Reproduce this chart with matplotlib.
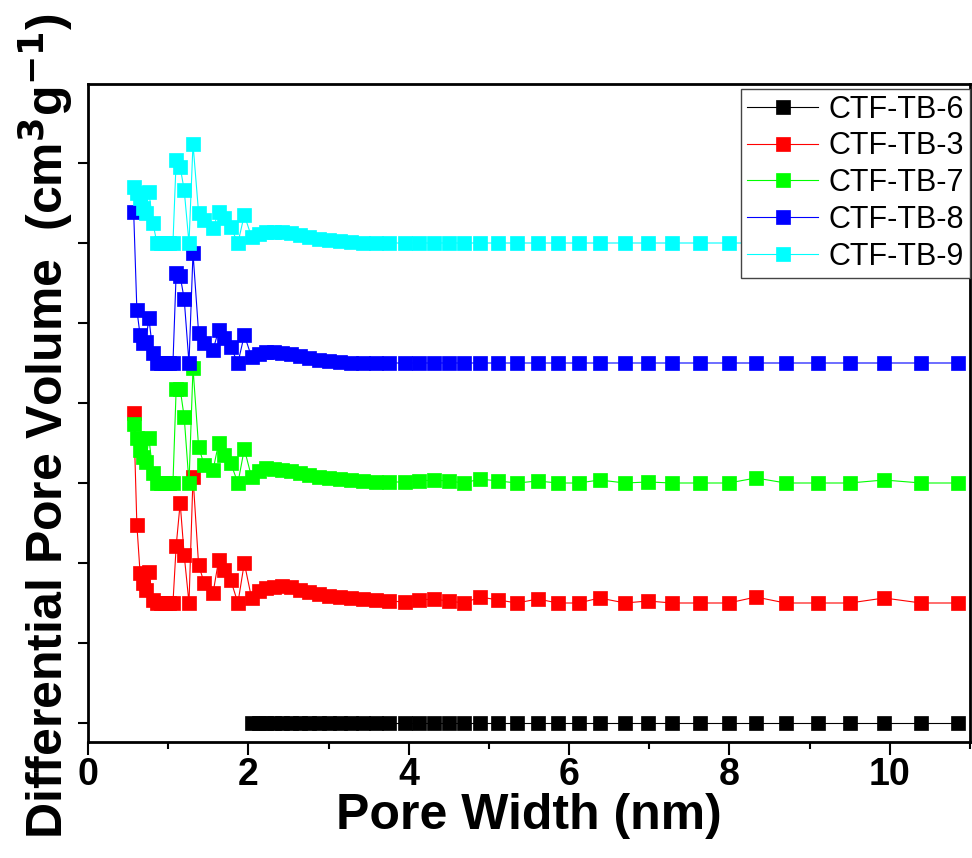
import matplotlib
matplotlib.use("Agg")
import matplotlib.pyplot as plt
from matplotlib import font_manager
from matplotlib.ticker import MultipleLocator

names = {f.name for f in font_manager.fontManager.ttflist}
narrow = 'Liberation Sans Narrow' if 'Liberation Sans Narrow' in names else 'Liberation Sans'
plt.rcParams['font.family'] = ['Liberation Sans', 'DejaVu Sans']
plt.rcParams['mathtext.default'] = 'bf'

# pore width grid (nm)
x_micro = [0.57, 0.61, 0.65, 0.69, 0.72, 0.76, 0.81, 0.86, 0.91, 0.96, 1.01, 1.06,
           1.10, 1.15, 1.20, 1.26, 1.31, 1.38, 1.45, 1.56, 1.63, 1.70, 1.78, 1.87]
x_meso = [1.95, 2.04, 2.13, 2.22, 2.32, 2.42, 2.53, 2.64, 2.76, 2.88, 3.01, 3.14,
          3.28, 3.43, 3.59, 3.76, 3.95,
          4.13, 4.31, 4.50, 4.69, 4.89, 5.12, 5.35, 5.61, 5.86, 6.12, 6.38, 6.70,
          6.98, 7.29, 7.63, 7.99, 8.33, 8.70, 9.10, 9.50, 9.93, 10.39, 10.85]
x_all = x_micro + x_meso
x_tb6 = x_meso[1:]

# differential pore volume (a.u., before stacking offset)
tb6 = [0, 0, 0, 0, 0, 0, 0, 0, 0, 0, 0, 0, 0, 0, 0, 0,
       0, 0, 0, 0, 0, 0, 0, 0, 0, 0, 0, 0, 0, 0, 0, 0,
       0, 0, 0, 0, 0, 0, 0]
tb3 = [190, 78, 30, 20, 13, 31, 3, 0, 0, 0, 0, 0, 57, 100, 48, 0, 126, 38, 20, 10, 43, 33, 23, 0,
       40, 5, 12, 15, 16, 17, 16, 13, 11, 9, 7, 6, 5, 4, 3, 2, 1,
       3, 4, 2, 0, 6, 3, 0, 4, 0, 0, 5, 0, 2, 0, 0, 0, 6, 0, 0, 0, 5, 0, 0]
tb7 = [59, 45, 33, 26, 21, 45, 10, 0, 0, 0, 0, 0, 94, 94, 66, 0, 115, 36, 18, 13, 40, 28, 20, 0,
       34, 6, 12, 15, 14, 13, 12, 10, 8, 6, 5, 4, 3, 2, 1, 1, 1,
       2, 3, 2, 0, 4, 2, 0, 2, 0, 0, 3, 0, 1, 0, 0, 0, 5, 0, 0, 0, 3, 0, 0]
tb8 = [151, 53, 28, 20, 21, 45, 10, 0, 0, 0, 0, 0, 90, 87, 64, 0, 110, 30, 20, 13, 33, 25, 16, 0,
       28, 6, 9, 11, 11, 10, 9, 7, 5, 3, 2, 1, 0, 0, 0, 0, 0,
       0, 0, 0, 0, 0, 0, 0, 0, 0, 0, 0, 0, 0, 0, 0, 0, 0, 0, 0, 0, 0, 0, 0]
tb9 = [56, 50, 45, 35, 30, 51, 20, 0, 0, 0, 0, 0, 83, 76, 53, 0, 99, 30, 23, 15, 31, 25, 16, 0,
       28, 6, 9, 11, 11, 11, 10, 8, 6, 4, 3, 2, 1, 0, 0, 0, 0,
       0, 0, 0, 0, 0, 0, 0, 0, 0, 0, 0, 0, 0, 0, 0, 0, 0, 0, 0, 0, 0, 0, 0]

labels = ['CTF-TB-6', 'CTF-TB-3', 'CTF-TB-7', 'CTF-TB-8', 'CTF-TB-9']
colors = ['#000000', '#ff0000', '#00ff00', '#0000ff', '#00ffff']
offsets = [0, 120, 240, 360, 480]

fig = plt.figure(figsize=(9.72, 8.58), dpi=100)
ax = fig.add_axes([0.0905, 0.1352, 0.9074, 0.7669])

series = [(x_tb6, tb6), (x_all, tb3), (x_all, tb7), (x_all, tb8), (x_all, tb9)]
for (xs, ys), lab, c, off in zip(series, labels, colors, offsets):
    ax.plot(xs, [v + off for v in ys], color=c, lw=0.8, marker='s', ms=10.5,
            mec=c, mew=0.5, label=lab)

ax.set_xlim(0, 11)
ax.set_ylim(-19, 639)
ax.xaxis.set_major_locator(MultipleLocator(2))
ax.xaxis.set_minor_locator(MultipleLocator(1))
ax.yaxis.set_major_locator(MultipleLocator(80))
ax.set_yticklabels([])
ax.tick_params(axis='x', which='major', direction='out', length=9, width=1.5, pad=2)
ax.tick_params(axis='x', which='minor', direction='out', length=5, width=1.5)
ax.tick_params(axis='y', which='major', direction='out', length=7, width=1.5)
for lbl in ax.get_xticklabels():
    lbl.set_fontfamily(narrow)
    lbl.set_fontweight('bold')
    lbl.set_fontsize(27)
for sp in ax.spines.values():
    sp.set_linewidth(2)

ax.set_xlabel('Pore Width (nm)', fontsize=36, fontweight='bold', family=narrow, labelpad=0)
fig.text(0.047, 0.022, 'Differential Pore Volume  (cm$^3$g$^{-1}$)',
         rotation=90, ha='center', va='bottom', fontsize=36, fontweight='bold')

leg = ax.legend(loc='upper right', bbox_to_anchor=(1.0, 0.993), borderaxespad=0,
                fontsize=22, fancybox=False, framealpha=1, edgecolor='#444444',
                handlelength=2.3, handletextpad=0.35, labelspacing=0.22,
                borderpad=0.2, markerscale=0.9)
leg.get_frame().set_linewidth(1.0)

fig.savefig('out.png', dpi=100)
